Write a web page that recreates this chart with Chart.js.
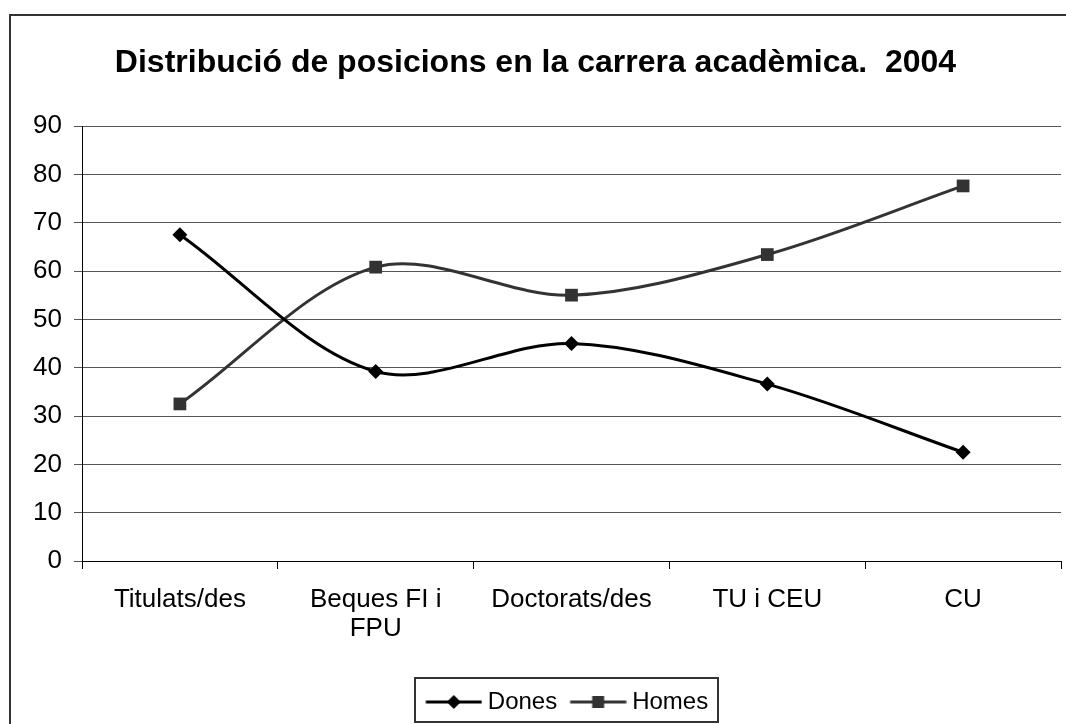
<!DOCTYPE html>
<html>
<head>
<meta charset="utf-8">
<script src="https://cdn.jsdelivr.net/npm/chart.js@4"></script>
<style>
  html, body { margin: 0; padding: 0; background: #fff; }
  canvas { display: block; }
</style>
</head>
<body>
<canvas id="chart" width="1066" height="724"></canvas>
<script>
const categories = ['Titulats/des', ['Beques FI i', 'FPU'], 'Doctorats/des', 'TU i CEU', 'CU']
const dones = [67.5, 39.2, 45.0, 36.6, 22.5]
const homes = [32.5, 60.8, 55.0, 63.4, 77.6]
const yTicks = [0, 10, 20, 30, 40, 50, 60, 70, 80, 90]

const FONT = "'Liberation Sans', Arial, sans-serif"
const LEGEND_SHIFT = 30

// legend icon: a short line with the marker in its middle
function legendIcon(color, style) {
  const c = document.createElement('canvas')
  c.width = 66
  c.height = 20
  const ctx = c.getContext('2d')
  ctx.strokeStyle = color
  ctx.fillStyle = color
  ctx.lineWidth = 3
  ctx.beginPath()
  ctx.moveTo(9.5, 10)
  ctx.lineTo(65.5, 10)
  ctx.stroke()
  const cx = 37.5
  ctx.beginPath()
  if (style === 'rectRot') {
    ctx.moveTo(cx, 3)
    ctx.lineTo(cx + 7, 10)
    ctx.lineTo(cx, 17)
    ctx.lineTo(cx - 7, 10)
  } else {
    ctx.rect(cx - 6, 4, 12, 12)
  }
  ctx.closePath()
  ctx.fill()
  return c
}

const frame = {
  id: 'frame',
  afterLayout(chart) {
    // the legend sits a bit right of centre in the original
    const lg = chart.legend
    lg.left += LEGEND_SHIFT
    lg.right += LEGEND_SHIFT
    lg.legendHitBoxes.forEach((h) => { h.left += LEGEND_SHIFT })
  },
  beforeDraw(chart) {
    const ctx = chart.ctx
    ctx.save()
    ctx.strokeStyle = '#333'
    ctx.lineWidth = 2
    ctx.strokeRect(10, 15, 1200, 900)
    ctx.restore()
  },
  afterDraw(chart) {
    const boxes = chart.legend.legendHitBoxes
    if (!boxes || !boxes.length) return
    const first = boxes[0]
    const last = boxes[boxes.length - 1]
    const left = first.left - 8
    const right = last.left + last.width + 10
    const top = first.top - 10
    const bottom = first.top + first.height + 10
    const ctx = chart.ctx
    ctx.save()
    ctx.strokeStyle = '#333'
    ctx.lineWidth = 2
    ctx.strokeRect(Math.round(left), Math.round(top) - 2, Math.round(right - left), Math.round(bottom - top))
    ctx.restore()
  },
}

new Chart(document.getElementById('chart'), {
  type: 'line',
  data: {
    labels: categories,
    datasets: [
      {
        label: 'Dones',
        data: dones,
        borderColor: '#000',
        backgroundColor: '#000',
        borderWidth: 3,
        pointStyle: 'rectRot',
        pointRadius: 7.5,
        pointBorderWidth: 0,
        tension: 0.33,
        legendIcon: legendIcon('#000', 'rectRot'),
      },
      {
        label: 'Homes',
        data: homes,
        borderColor: '#333',
        backgroundColor: '#333',
        borderWidth: 3,
        pointStyle: 'rect',
        pointRadius: 9,
        pointBorderWidth: 0,
        tension: 0.33,
        legendIcon: legendIcon('#333', 'rect'),
      },
    ],
  },
  options: {
    responsive: false,
    animation: false,
    layout: { autoPadding: false, padding: { left: 10, right: 5, top: 0, bottom: 0 } },
    plugins: {
      title: {
        display: true,
        text: 'Distribució de posicions en la carrera acadèmica.  2004',
        color: '#000',
        font: { family: FONT, size: 32, weight: 'bold', lineHeight: 1.2 },
        padding: { top: 44, bottom: 43.6 },
      },
      legend: {
        position: 'bottom',
        labels: {
          color: '#000',
          font: { family: FONT, size: 24 },
          padding: 10,
          usePointStyle: true,
          pointStyleWidth: 53,
          generateLabels(chart) {
            return chart.data.datasets.map((ds, i) => ({
              text: ds.label,
              fontColor: '#000',
              pointStyle: ds.legendIcon,
              fillStyle: ds.borderColor,
              strokeStyle: ds.borderColor,
              lineWidth: 0,
              hidden: false,
              datasetIndex: i,
            }))
          },
        },
      },
      tooltip: { enabled: false },
    },
    scales: {
      x: {
        offset: true,
        grid: {
          offset: true,
          drawOnChartArea: false,
          drawTicks: true,
          tickLength: 8,
          color: '#000',
        },
        border: { color: '#000', width: 1 },
        ticks: {
          color: '#000',
          maxRotation: 0,
          autoSkip: false,
          padding: 17,
          font: { family: FONT, size: 26, lineHeight: 1.1 },
        },
        afterFit(scale) {
          scale.height = 119
          scale.paddingLeft = 0
          scale.paddingRight = 0
        },
      },
      y: {
        min: 0,
        max: 90,
        afterBuildTicks(scale) {
          scale.ticks = yTicks.map((v) => ({ value: v }))
        },
        grid: {
          color: '#555',
          tickLength: 8,
        },
        border: { color: '#000', width: 1 },
        ticks: {
          color: '#000',
          padding: 12,
          font: { family: FONT, size: 26 },
        },
        afterFit(scale) {
          scale.width = 72
        },
      },
    },
  },
  plugins: [frame],
})
</script>
</body>
</html>
